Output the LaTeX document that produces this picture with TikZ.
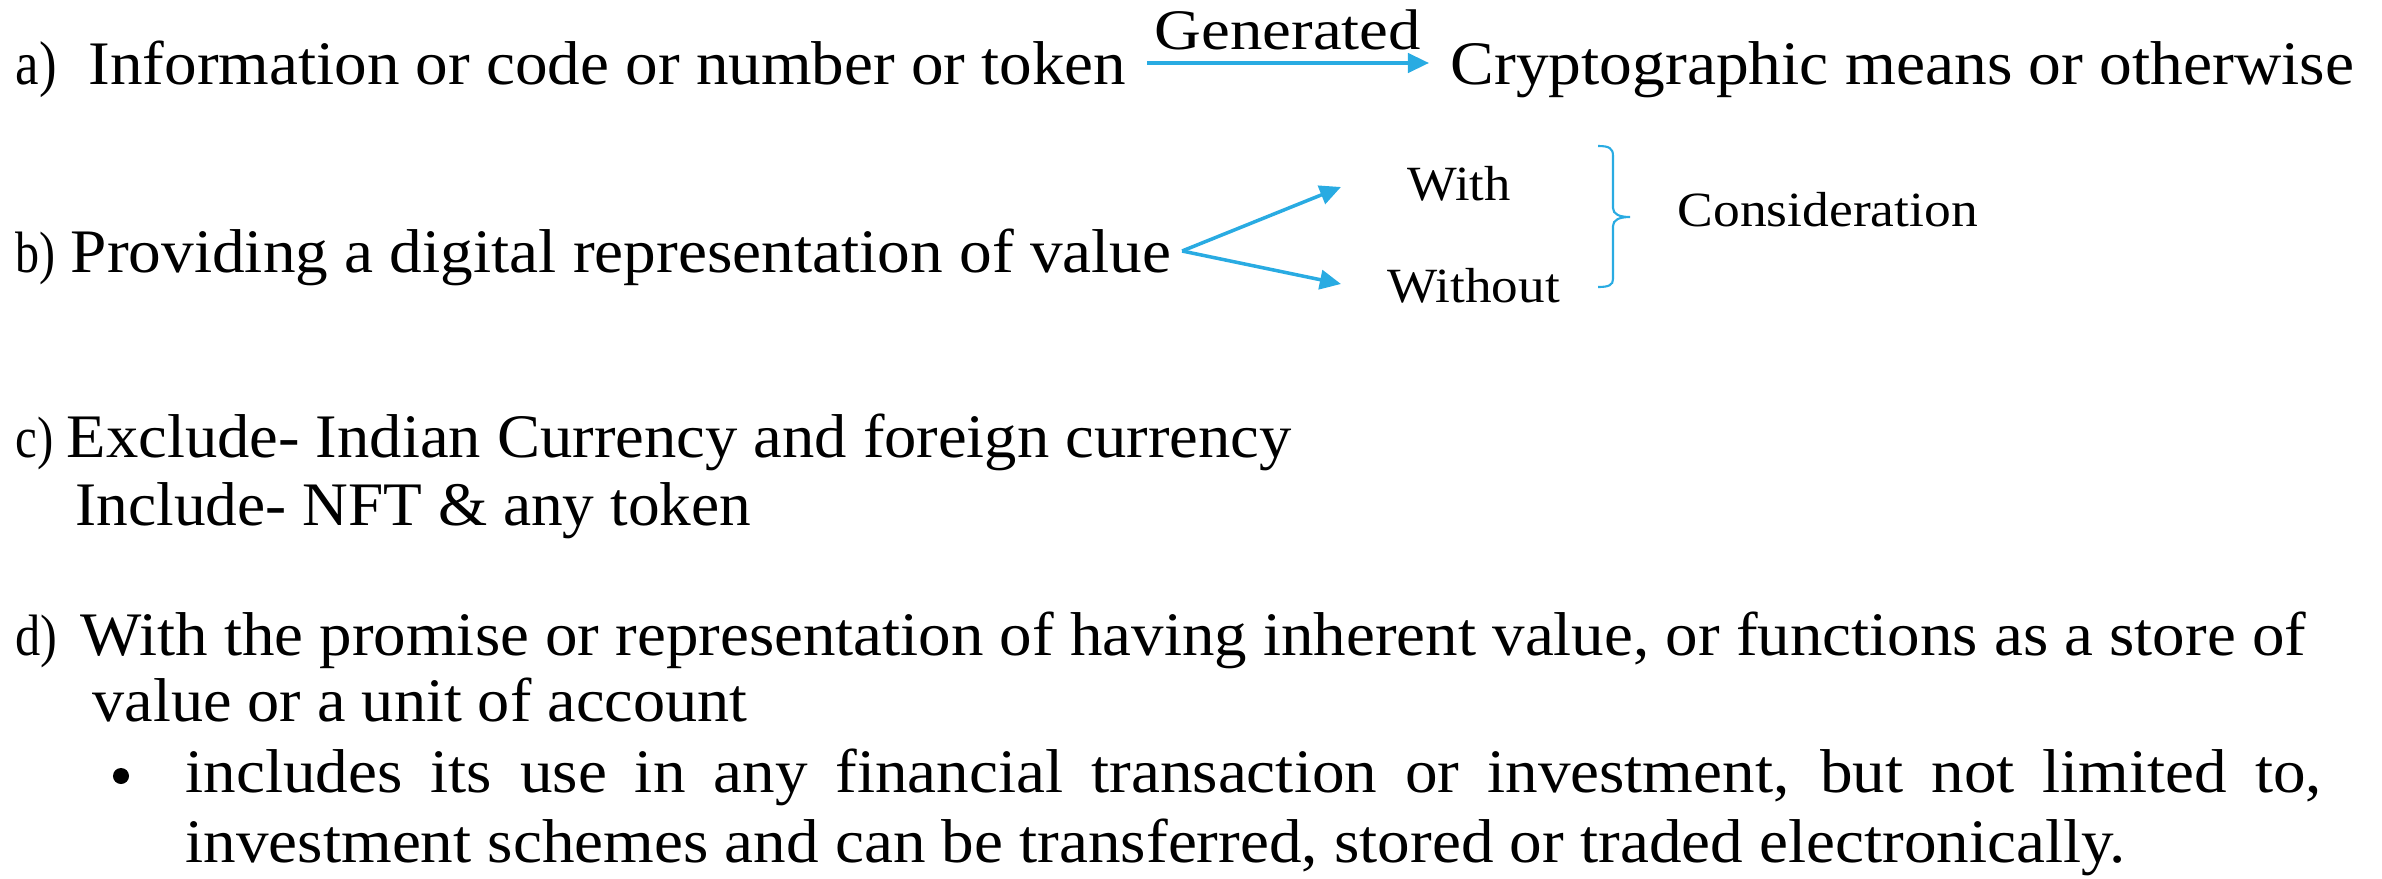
\documentclass[tikz,border=0pt]{standalone}
\usepackage{fontspec}
\setmainfont{Liberation Serif}
\usepackage{graphicx}
\usetikzlibrary{arrows.meta,calc}
\definecolor{arrblue}{RGB}{41,171,226}
\newcommand\fitw[2]{\resizebox{#1}{\height}{#2}}
\newlength\natwd
\tikzset{
 txtmain/.style={anchor=base west, inner sep=0pt, font=\fontsize{17.6}{21}\selectfont},
 txtlbl/.style={anchor=base west, inner sep=0pt, font=\fontsize{16.6}{20}\selectfont},
 txtsmall/.style={anchor=base west, inner sep=0pt, font=\fontsize{14}{17}\selectfont},
 arr/.style={draw=arrblue, line width=1pt, -{Triangle[length=6pt,width=5.5pt]}},
 brc/.style={draw=arrblue, line width=0.6pt},
}
\begin{document}
\begin{tikzpicture}[x=0.01cm,y=-0.01cm]
\useasboundingbox (0,0) rectangle (2382,878);
% a)
\node[txtmain] (la) at (15,84) {\fitw{0.41cm}{a)}};
\node[txtmain] (ta) at (88,84) {\fitw{10.37cm}{Information or code or number or token}};
\node[txtmain] (tcr) at (1450,84) {\fitw{9.03cm}{Cryptographic means or otherwise}};
\draw[arr] ([xshift=0.2cm,yshift=0.21cm]ta.base east) -- ([xshift=-0.21cm,yshift=0.21cm]tcr.base west)
  node[midway, anchor=base, yshift=0.13cm, inner sep=0pt, font=\fontsize{16.3}{19}\selectfont, text=black] (gen) {\fitw{2.66cm}{Generated}};
% b)
\node[txtlbl] (lb) at (15,272) {\fitw{0.40cm}{b)}};
\node[txtmain] (tb) at (70,272) {\fitw{11.0cm}{Providing a digital representation of value}};
\node[txtsmall] (with) at (1407,200) {\fitw{1.03cm}{With}};
\node[txtsmall] (without) at (1387,302) {\fitw{1.72cm}{Without}};
\node[txtsmall] (cons) at (1677,226) {\fitw{3.0cm}{Consideration}};
\coordinate (fork) at ([xshift=0.1cm,yshift=0.21cm]tb.base east);
\draw[arr] (fork) -- ([xshift=-0.66cm,yshift=0.13cm]with.base west);
\draw[arr] (fork) -- ([xshift=-0.46cm,yshift=0.18cm]without.base west);
\draw[brc] (1598,146) .. controls (1609,146) and (1613,148) .. (1613,156) -- (1613,208)
  .. controls (1613,214) and (1619,217) .. (1630,217)
  .. controls (1619,217) and (1613,220) .. (1613,226) -- (1613,279)
  .. controls (1613,285) and (1609,287) .. (1598,287);
% c)
\node[txtlbl] (lc) at (15,457) {\fitw{0.38cm}{c)}};
\node[txtmain] (tc1) at (66,457) {\fitw{12.24cm}{Exclude- Indian Currency and foreign currency}};
\node[txtmain] (tc2) at (75,525) {\fitw{6.75cm}{Include- NFT \& any token}};
% d)
\node[txtlbl] (ld) at (15,655) {\fitw{0.42cm}{d)}};
\node[txtmain] (td1) at (80,655) {\fitw{22.24cm}{With the promise or representation of having inherent value, or functions as a store of}};
\node[txtmain] (td2) at (92,721) {\fitw{6.54cm}{value or a unit of account}};
\node[circle, fill=black, inner sep=0pt, minimum size=0.16cm] (bul) at (121,776) {};
\node[txtmain] (td3) at (185,792) {\settowidth\natwd{investment schemes and can be transferred, stored or traded electronically.}%
  \pgfmathsetmacro\sxf{(19.39cm)/(\natwd)}%
  \pgfmathsetlengthmacro\jw{(21.35cm)/\sxf}%
  \scalebox{\sxf}[1]{\makebox[\jw][s]{includes its use in any financial transaction or investment, but not limited to,}}};
\node[txtmain] (td4) at (185,862) {\fitw{19.39cm}{investment schemes and can be transferred, stored or traded electronically.}};
\end{tikzpicture}
\end{document}
